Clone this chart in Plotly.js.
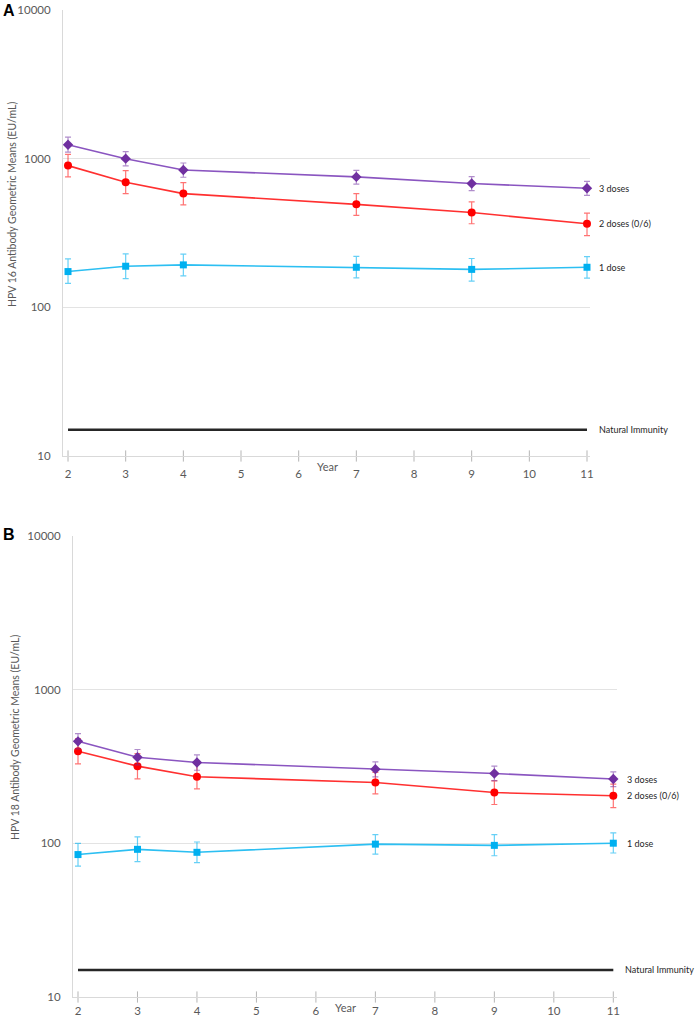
<!DOCTYPE html>
<html>
<head>
<meta charset="utf-8">
<script src="https://cdn.plot.ly/plotly-3.0.1.min.js"></script>
<style>html,body{margin:0;padding:0;background:#fff;}#chart{width:696px;height:1020px;}</style>
</head>
<body>
<div id="chart"></div>
<script>
// ---- data ----
const tickYears = [2, 3, 4, 5, 6, 7, 8, 9, 10, 11];
const years = [2, 3, 4, 7, 9, 11];
const seriesNames = ["3 doses", "2 doses (0/6)", "1 dose"];
const naturalImmunityLabel = "Natural Immunity";
const naturalImmunity = 15;

// Panel A: HPV 16
const a3Dose = [1241, 1000, 839, 754, 680, 632];
const a3DoseUpper = [1395, 1115, 935, 835, 757, 704];
const a3DoseLower = [1105, 895, 750, 675, 610, 567];
const a2Dose = [898, 693, 582, 493, 434, 365];
const a2DoseUpper = [1069, 831, 690, 582, 512, 430];
const a2DoseLower = [754, 582, 489, 416, 365, 304];
const a1Dose = [174, 189, 193, 186, 180, 186];
const a1DoseUpper = [212, 229, 228, 220, 213, 219];
const a1DoseLower = [145, 156, 163, 158, 150, 157];

// Panel B: HPV 18
const b3Dose = [461, 363, 336, 304, 285, 262];
const b3DoseUpper = [518, 408, 376, 339, 318, 292];
const b3DoseLower = [412, 324, 299, 271, 256, 234];
const b2Dose = [397, 318, 271, 249, 214, 204];
const b2DoseUpper = [481, 383, 326, 290, 255, 243];
const b2DoseLower = [329, 263, 226, 210, 179, 171];
const b1Dose = [84.5, 91.4, 87.4, 98.8, 97, 100.2];
const b1DoseUpper = [100, 110, 102, 114, 114, 117];
const b1DoseLower = [71, 76, 75, 85, 83, 86.5];

const yTickVals = [10, 100, 1000, 10000];
const yTickText = ["10", "100", "1000", "10000"];
const yTitleA = "HPV 16 Antibody Geometric Means (EU/mL)";
const yTitleB = "HPV 18 Antibody Geometric Means (EU/mL)";
const xTitle = "Year";

// ---- styling ----
const FONT = "Lato, 'Open Sans', sans-serif";
const styles = [
  {color: "#7030A0", line: "#8a55c0", err: "rgba(112,48,160,0.55)", symbol: "diamond", size: 8},
  {color: "#FF0000", line: "#ff3030", err: "rgba(255,0,0,0.55)", symbol: "circle", size: 8},
  {color: "#00B0F0", line: "#2cbff2", err: "rgba(0,176,240,0.6)", symbol: "square", size: 7}
];

function series(vals, up, lo, st, name, xa, ya) {
  return {
    x: years, y: vals, type: "scatter", mode: "lines+markers", name: name,
    xaxis: xa, yaxis: ya, cliponaxis: false,
    line: {color: st.line, width: 1.6},
    marker: {color: st.color, symbol: st.symbol, size: st.size},
    error_y: {type: "data", symmetric: false,
      array: vals.map((v, i) => up[i] - v),
      arrayminus: vals.map((v, i) => v - lo[i]),
      color: st.err, thickness: 1.2, width: 3},
    showlegend: false, hoverinfo: "x+y"
  };
}
function natural(xa, ya) {
  return {x: [years[0], years[years.length - 1]], y: [naturalImmunity, naturalImmunity],
    type: "scatter", mode: "lines", xaxis: xa, yaxis: ya,
    line: {color: "#262626", width: 2.4}, showlegend: false, hoverinfo: "skip"};
}
function crossTicks(xa, ya) {
  return {x: tickYears, y: tickYears.map(() => yTickVals[0]), type: "scatter", mode: "markers",
    xaxis: xa, yaxis: ya, cliponaxis: false,
    marker: {symbol: "line-ns-open", size: 8, color: "#b5b5b5", line: {color: "#b5b5b5", width: 1}},
    showlegend: false, hoverinfo: "skip"};
}

const data = [
  crossTicks("x", "y"), crossTicks("x2", "y2"),
  natural("x", "y"), natural("x2", "y2"),
  series(a1Dose, a1DoseUpper, a1DoseLower, styles[2], seriesNames[2], "x", "y"),
  series(a2Dose, a2DoseUpper, a2DoseLower, styles[1], seriesNames[1], "x", "y"),
  series(a3Dose, a3DoseUpper, a3DoseLower, styles[0], seriesNames[0], "x", "y"),
  series(b1Dose, b1DoseUpper, b1DoseLower, styles[2], seriesNames[2], "x2", "y2"),
  series(b2Dose, b2DoseUpper, b2DoseLower, styles[1], seriesNames[1], "x2", "y2"),
  series(b3Dose, b3DoseUpper, b3DoseLower, styles[0], seriesNames[0], "x2", "y2")
];

const W = 696, H = 1020;
function xAxis(l, r, lo, hi, anchor, standoff) {
  return {domain: [l / W, r / W], range: [lo, hi], anchor: anchor,
    tickvals: tickYears, ticktext: tickYears.map(String),
    showgrid: false, zeroline: false, showline: true, linecolor: "#d9d9d9", linewidth: 1,
    ticks: "", ticklabelstandoff: standoff,
    tickfont: {family: FONT, size: 11.5, color: "#595959"}, fixedrange: true};
}
function yAxis(top, bottom, anchor) {
  return {domain: [(H - bottom) / H, (H - top) / H], type: "log", range: [1, 4], anchor: anchor,
    tickvals: yTickVals, ticktext: yTickText,
    showgrid: true, gridcolor: "#e3e3e3", gridwidth: 1,
    zeroline: false, showline: true, linecolor: "#d9d9d9", linewidth: 1,
    ticks: "", ticklabelstandoff: 9,
    tickfont: {family: FONT, size: 11.5, color: "#595959"}, fixedrange: true};
}

const labFont = {family: FONT, size: 9, color: "#262626"};
function endLabels(xa, ya, vals, shift) {
  return vals.map((v, i) => ({xref: xa, yref: ya, x: years[years.length - 1],
    y: Math.log10(v[v.length - 1]), text: seriesNames[i], showarrow: false,
    xanchor: "left", yanchor: "middle", xshift: shift, font: labFont}));
}

const annotations = [
  ...endLabels("x", "y", [a3Dose, a2Dose, a1Dose], 10),
  ...endLabels("x2", "y2", [b3Dose, b2Dose, b1Dose], 12),
  {xref: "x", yref: "y", x: years[years.length - 1], y: Math.log10(naturalImmunity), text: naturalImmunityLabel,
    showarrow: false, xanchor: "left", yanchor: "middle", xshift: 10, font: labFont},
  {xref: "x2", yref: "y2", x: years[years.length - 1], y: Math.log10(naturalImmunity), text: naturalImmunityLabel,
    showarrow: false, xanchor: "left", yanchor: "middle", xshift: 10, font: labFont},
  {xref: "x", yref: "paper", x: 6.5, y: (H - 466) / H, text: xTitle, showarrow: false,
    xanchor: "center", yanchor: "middle", font: {family: FONT, size: 11, color: "#595959"}},
  {xref: "x2", yref: "paper", x: 6.5, y: (H - 1007) / H, text: xTitle, showarrow: false,
    xanchor: "center", yanchor: "middle", font: {family: FONT, size: 11, color: "#595959"}},
  {xref: "paper", yref: "paper", x: 12 / W, y: (H - 205) / H, text: yTitleA, textangle: -90, showarrow: false,
    xanchor: "center", yanchor: "middle", font: {family: FONT, size: 10.5, color: "#595959"}},
  {xref: "paper", yref: "paper", x: 15 / W, y: (H - 738) / H, text: yTitleB, textangle: -90, showarrow: false,
    xanchor: "center", yanchor: "middle", font: {family: FONT, size: 10.5, color: "#595959"}},
  {xref: "paper", yref: "paper", x: 1 / W, y: (H - 11) / H, text: "<b>A</b>", showarrow: false,
    xanchor: "left", yanchor: "middle", font: {family: "'Liberation Sans', Arial, sans-serif", size: 16, color: "#000"}},
  {xref: "paper", yref: "paper", x: 1 / W, y: (H - 534) / H, text: "<b>B</b>", showarrow: false,
    xanchor: "left", yanchor: "middle", font: {family: "'Liberation Sans', Arial, sans-serif", size: 16, color: "#000"}}
];

const layout = {
  width: W, height: H, margin: {l: 0, r: 0, t: 0, b: 0},
  paper_bgcolor: "#fff", plot_bgcolor: "#fff", showlegend: false,
  xaxis: xAxis(63, 590, 1.913, 11.052, "y", 7),
  yaxis: yAxis(10, 456, "x"),
  xaxis2: xAxis(73, 617, 1.916, 11.062, "y2", 3),
  yaxis2: yAxis(536, 997, "x2"),
  annotations: annotations
};

Plotly.newPlot("chart", data, layout, {displayModeBar: false, staticPlot: true});
</script>
</body>
</html>
